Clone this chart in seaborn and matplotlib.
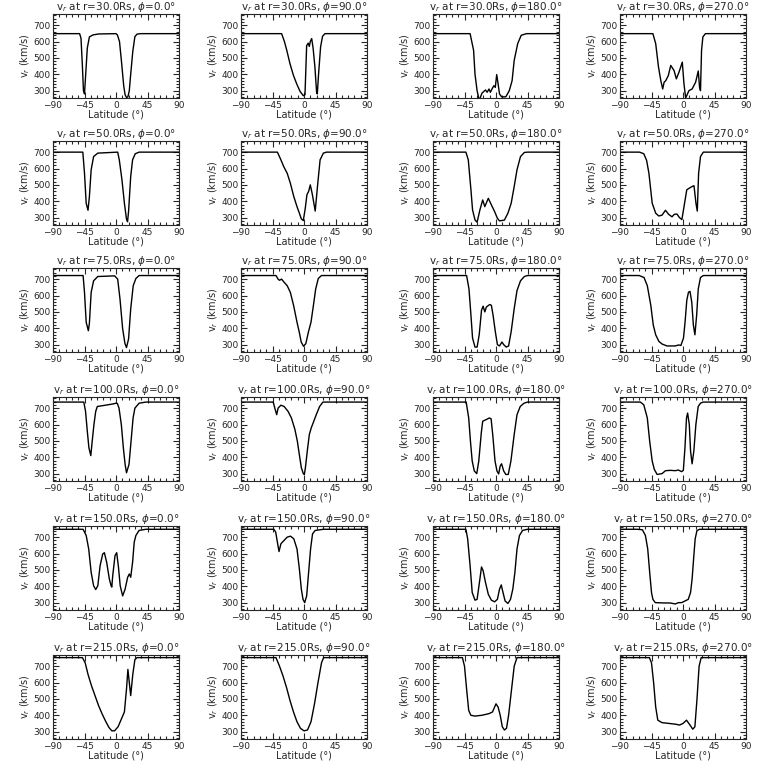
import numpy as np
import pandas as pd
import matplotlib
matplotlib.use("Agg")
import matplotlib.pyplot as plt
from matplotlib.ticker import MultipleLocator
import seaborn as sns

# ----------------------------------------
# Radial speed v_r (km/s) against latitude (deg)
radii = [30.0, 50.0, 75.0, 100.0, 150.0, 215.0]
phis = [0.0, 90.0, 180.0, 270.0]

# r = 30 Rs
lat_30_0 = [-90, -52, -50, -48, -46.5, -45, -43, -41, -38, -33, -25, 0, 2, 5, 8, 11, 13, 15, 17, 19, 21, 24, 27, 30, 35, 90]
v_30_0 = [648, 648, 620, 450, 300, 280, 420, 560, 628, 640, 646, 648, 640, 600, 470, 330, 275, 258, 262, 300, 400, 540, 630, 645, 648, 648]
lat_30_90 = [-90, -32, -28, -24.6, -20, -15, -10.4, -5.7, -1, 1.4, 3.8, 6, 7.6, 9, 11, 13, 15.6, 18, 19, 20.8, 23.7, 26.5, 30, 90]
v_30_90 = [648, 648, 600, 546, 464, 392, 341, 296, 269, 275, 575, 590, 570, 600, 618, 560, 444, 290, 280, 400, 567, 632, 648, 648]
lat_30_180 = [-90, -37, -32, -30, -27, -24, -20, -15, -12.7, -10, -8, -5, -3, -1, 1, 3, 5, 8, 14, 19, 23, 26, 31, 36, 43.5, 90]
v_30_180 = [648, 648, 546, 400, 300, 240, 285, 304, 290, 310, 290, 316, 330, 320, 398, 341, 280, 262, 262, 300, 361, 485, 587, 638, 648, 648]
lat_30_270 = [-90, -43, -39, -35, -31.7, -29, -27, -24.6, -21, -17.5, -12.8, -9.5, -5.7, -1, 1.4, 3.8, 8.5, 13, 18, 21.8, 23.7, 25, 26.5, 28.4, 32, 90]
v_30_270 = [648, 648, 587, 444, 361, 310, 351, 361, 392, 454, 423, 372, 413, 474, 341, 255, 300, 310, 351, 420, 320, 300, 546, 628, 648, 648]

# r = 50 Rs
lat_50_0 = [-90, -47.4, -45, -42.6, -40, -38, -35.5, -32, -26, 2.4, 4.7, 8.5, 12, 15, 16.5, 18, 21, 23.7, 27.5, 33, 90]
v_50_0 = [700, 700, 571, 388, 345, 429, 592, 673, 694, 700, 653, 531, 388, 290, 275, 340, 551, 653, 690, 700, 700]
lat_50_90 = [-90, -38, -33, -29, -24, -19.5, -14.6, -10, -6.6, -3.8, -1, 1.8, 4.2, 6.6, 9, 12, 16, 19.7, 23, 27.7, 32, 90]
v_50_90 = [700, 700, 653, 612, 571, 510, 429, 367, 327, 292, 282, 357, 440, 460, 500, 440, 340, 510, 653, 694, 700, 700]
lat_50_180 = [-90, -43, -39.6, -35.8, -33.5, -30, -27, -23, -19, -16, -11, -6.6, -2, 2, 5, 12, 17, 21.7, 26, 30, 35, 40.5, 45, 90]
v_50_180 = [700, 700, 653, 470, 347, 286, 272, 347, 408, 367, 418, 378, 337, 296, 280, 285, 327, 388, 490, 592, 673, 698, 700, 700]
lat_50_270 = [-90, -62, -56, -52, -48.7, -44, -39, -34.6, -30, -25, -20.5, -15.7, -12.5, -8.7, -5, -1.6, 3, 5.4, 9, 13, 15.7, 18.5, 20.4, 22.3, 25, 29, 90]
v_50_270 = [700, 700, 690, 650, 571, 388, 327, 310, 315, 345, 320, 305, 320, 322, 300, 288, 408, 470, 480, 490, 495, 388, 340, 571, 673, 700, 700]

# r = 75 Rs
lat_75_0 = [-90, -47, -45, -42.6, -39.5, -38, -35.5, -32, -26, -2, 2.4, 5.7, 9.5, 12.8, 15, 18, 21, 24.6, 28.4, 33, 90]
v_75_0 = [722, 722, 619, 437, 385, 430, 619, 690, 716, 720, 700, 579, 397, 306, 282, 336, 518, 660, 704, 722, 722]
lat_75_90 = [-90, -40, -37, -35, -32, -29, -24, -19.5, -14.8, -10, -6.8, -4, -0.7, 2.6, 6.3, 10, 13.4, 16.7, 20.4, 25, 90]
v_75_90 = [722, 722, 700, 693, 700, 684, 660, 619, 538, 437, 377, 316, 290, 306, 377, 437, 538, 640, 704, 722, 722]
lat_75_180 = [-90, -42, -38.6, -35.8, -33.5, -30, -27, -24, -20.7, -18.4, -16, -13.7, -9, -6.6, -4.2, -1, 2, 5, 8.5, 11, 14.6, 18, 21.7, 26, 30, 35, 40.5, 45, 90]
v_75_180 = [722, 722, 640, 480, 340, 285, 285, 360, 510, 535, 500, 530, 545, 540, 480, 380, 300, 292, 316, 300, 285, 292, 380, 520, 630, 690, 716, 722, 722]
lat_75_270 = [-90, -62.7, -55.7, -51, -46, -42.5, -39, -34.5, -30, -23, -11, -6.3, -3, 0.7, 3, 5.4, 7.8, 10, 12.5, 14.8, 17, 19.5, 21.8, 25, 29, 90]
v_75_270 = [722, 722, 710, 660, 540, 420, 360, 320, 304, 292, 292, 298, 295, 340, 440, 570, 620, 625, 560, 420, 360, 480, 640, 710, 722, 722]

# r = 100 Rs
lat_100_0 = [-90, -46, -43.5, -41, -38.7, -36, -34, -31.5, -29, -26.7, -15, -5, 0, 2, 4.3, 7.6, 10.5, 13, 15, 18.6, 21.5, 24.4, 27, 33, 42.5, 90]
v_100_0 = [737, 737, 680, 559, 458, 410, 498, 600, 680, 710, 718, 725, 730, 728, 700, 600, 458, 357, 305, 357, 498, 640, 700, 730, 737, 737]
lat_100_90 = [-90, -44, -41.7, -39, -37, -33, -28.4, -22.7, -18, -13, -9.5, -6, -3.8, -1, 0.5, 2, 4.7, 7.6, 10.4, 14, 17.5, 22.3, 27, 90]
v_100_90 = [737, 737, 700, 660, 700, 718, 710, 680, 640, 570, 498, 397, 336, 300, 295, 336, 438, 539, 580, 620, 660, 710, 737, 737]
lat_100_180 = [-90, -42.6, -39, -36.5, -34, -31, -27.5, -24.6, -21, -19, -14, -9.5, -7, -4.7, -1.4, 1.4, 3.8, 6, 8, 11, 14, 17.5, 21.3, 26, 30, 34.6, 40, 45, 90]
v_100_180 = [737, 737, 640, 498, 377, 316, 300, 377, 550, 620, 630, 640, 635, 539, 377, 316, 298, 347, 360, 316, 295, 295, 377, 539, 660, 710, 730, 737, 737]
lat_100_270 = [-90, -60.8, -56, -51, -47.6, -44, -41, -37, -30, -25, -18, -11, -6.6, -2, 0.5, 2.8, 5, 6.6, 9, 10.8, 13, 15.5, 18.4, 21.7, 25, 28.7, 90]
v_100_270 = [737, 737, 720, 640, 498, 377, 326, 295, 300, 318, 320, 318, 322, 312, 320, 458, 640, 670, 600, 438, 360, 438, 600, 710, 730, 737, 737]

# r = 150 Rs
lat_150_0 = [-90, -47, -42.6, -39, -35.5, -32, -29, -26, -22.7, -19, -16.6, -13.3, -9.5, -7, -6, -4.7, -1.4, 1, 3.3, 6, 9.5, 13, 16.6, 19, 21, 23.7, 26, 28.4, 33, 42.6, 90]
v_150_0 = [748, 748, 710, 628, 485, 403, 380, 403, 526, 597, 605, 546, 444, 403, 395, 464, 587, 605, 526, 403, 341, 382, 454, 475, 455, 546, 669, 710, 741, 748, 748]
lat_150_90 = [-90, -43, -40.4, -38, -35.7, -33, -31, -28.7, -24, -19.3, -14.6, -10, -6.6, -3.8, -1.4, 1, 3.8, 6.6, 9.4, 12.2, 16, 27.7, 90]
v_150_90 = [748, 748, 730, 669, 612, 659, 669, 679, 700, 706, 690, 628, 505, 382, 320, 300, 341, 485, 628, 720, 741, 748, 748]
lat_150_180 = [-90, -43, -40.5, -37, -34, -30, -27, -23, -20.7, -18.4, -15, -11, -6.6, -2, 2, 5, 7.5, 10, 13, 17, 20.7, 24, 27, 30, 33.5, 38, 45, 90]
v_150_180 = [748, 748, 690, 526, 362, 315, 320, 444, 518, 495, 423, 351, 315, 305, 320, 382, 408, 362, 310, 295, 320, 382, 485, 628, 710, 741, 748, 748]
lat_150_270 = [-90, -65, -58, -53.7, -50.4, -47.6, -45, -43, -39.6, -27.8, -18.4, -11, -6.6, -1.9, 2.8, 7.5, 10.8, 13, 15.5, 17.4, 20, 24, 90]
v_150_270 = [748, 748, 745, 710, 628, 485, 362, 320, 300, 298, 298, 292, 300, 300, 310, 320, 362, 444, 587, 690, 741, 748, 748]

# r = 215 Rs
lat_215_0 = [-90, -48, -44, -40, -35, -30, -25, -20, -15, -10, -6, -2, 3, 8, 12, 15, 17, 19, 21, 24, 27, 30, 90]
v_215_0 = [752, 752, 720, 650, 580, 520, 460, 410, 365, 325, 305, 305, 330, 380, 420, 560, 680, 600, 520, 650, 740, 752, 752]
lat_215_90 = [-90, -40, -35, -30, -25, -20, -15, -10, -5, 0, 5, 10, 15, 20, 25, 28, 90]
v_215_90 = [752, 752, 700, 640, 570, 490, 420, 360, 320, 305, 310, 360, 470, 600, 720, 752, 752]
lat_215_180 = [-90, -48, -45, -42, -39, -36, -30, -20, -10, -5, 0, 3, 6, 9, 12, 15, 18, 22, 26, 30, 90]
v_215_180 = [752, 752, 700, 560, 430, 400, 395, 400, 410, 420, 470, 450, 400, 330, 310, 320, 400, 550, 700, 752, 752]
lat_215_270 = [-90, -48, -45, -42, -39, -36, -30, -20, -10, -5, 0, 5, 10, 14, 17, 20, 23, 26, 90]
v_215_270 = [752, 752, 720, 600, 450, 370, 355, 350, 345, 340, 350, 370, 340, 315, 330, 500, 700, 752, 752]

lat_rows = [
    [lat_30_0, lat_30_90, lat_30_180, lat_30_270],
    [lat_50_0, lat_50_90, lat_50_180, lat_50_270],
    [lat_75_0, lat_75_90, lat_75_180, lat_75_270],
    [lat_100_0, lat_100_90, lat_100_180, lat_100_270],
    [lat_150_0, lat_150_90, lat_150_180, lat_150_270],
    [lat_215_0, lat_215_90, lat_215_180, lat_215_270],
]
v_rows = [
    [v_30_0, v_30_90, v_30_180, v_30_270],
    [v_50_0, v_50_90, v_50_180, v_50_270],
    [v_75_0, v_75_90, v_75_180, v_75_270],
    [v_100_0, v_100_90, v_100_180, v_100_270],
    [v_150_0, v_150_90, v_150_180, v_150_270],
    [v_215_0, v_215_90, v_215_180, v_215_270],
]

# ----------------------------------------
# Estilo
sns.set_style("ticks")
plt.rcParams['font.family'] = ['DejaVu Sans']
plt.rcParams['mathtext.fontset'] = 'dejavusans'

fig = plt.figure(figsize=(7.68, 7.68), dpi=100)

# panel geometry in pixels
col_left = [53, 241, 433, 620]
row_top = [14, 141, 268, 397, 526, 655]
W, H = 126, 84

for i, r in enumerate(radii):
    for j, phi in enumerate(phis):
        ax = fig.add_axes([col_left[j] / 768, 1 - (row_top[i] + H) / 768, W / 768, H / 768])
        df = pd.DataFrame({'lat': lat_rows[i][j], 'v': v_rows[i][j]})
        sns.lineplot(data=df, x='lat', y='v', ax=ax, color='black', lw=1.0, sort=False)

        ax.set_xlim(-90, 90)
        ax.set_ylim(255, 768)
        ax.xaxis.set_major_locator(MultipleLocator(45))
        ax.xaxis.set_minor_locator(MultipleLocator(9))
        ax.yaxis.set_major_locator(MultipleLocator(100))
        ax.yaxis.set_minor_locator(MultipleLocator(20))
        ax.tick_params(which='both', direction='in', top=True, right=True, labelsize=6.5, width=0.8, pad=2)
        ax.tick_params(which='major', length=4)
        ax.tick_params(which='minor', length=2)
        for s in ax.spines.values():
            s.set_linewidth(0.8)

        ax.set_title(r"v$_r$ at r=%.1fRs, $\phi$=%.1f°" % (r, phi), fontsize=7.5, pad=1.5)
        ax.set_xlabel("Latitude (°)", fontsize=7, labelpad=0)
        ax.set_ylabel(r"v$_r$ (km/s)", fontsize=7, labelpad=1)

fig.savefig("out.png", dpi=100, facecolor='white')
plt.close(fig)
